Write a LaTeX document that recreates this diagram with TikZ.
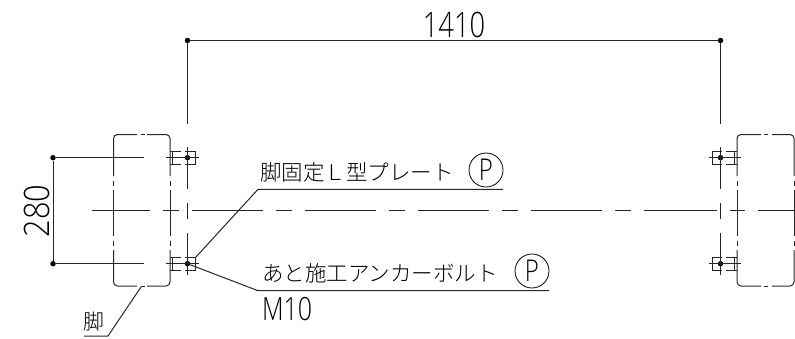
\documentclass[tikz,border=0pt]{standalone}
\usepackage{fontspec}
\setmainfont{Noto Sans CJK JP Light}
\newfontfamily\lat{Open Sans Light}
\newcommand{\cadtxt}[3]{\scalebox{#1}[#2]{\lat #3}}
\tikzset{
  thinl/.style={line width=1pt,black!85},
  leg/.style={line width=1pt,black!85,rounded corners=4pt},
  dot/.style={circle,fill=black,inner sep=0pt,minimum size=5.5pt},
  cjk/.style={inner sep=0pt,anchor=west,font=\fontsize{21.5pt}{22pt}\selectfont},
  pmark/.style={circle,draw,line width=0.8pt,minimum size=34pt,inner sep=0pt,font=\fontsize{30pt}{30pt}\selectfont}
}
\begin{document}
\begin{tikzpicture}[x=1pt,y=-1pt]
\useasboundingbox (0,0) rectangle (795,338);
\node[dot] (d1) at (187.5,40.5) {};
\node[dot] (d2) at (720.5,40.5) {};
\node[dot] (d3) at (53,157.7) {};
\node[dot] (d4) at (53,263.7) {};
\node[dot] (b1) at (187.5,157.7) {};
\node[dot] (b2) at (187.5,263.7) {};
\node[dot] (b3) at (720.5,157.7) {};
\node[dot] (b4) at (720.5,263.7) {};
\draw[thinl] (d1) -- (d2);
\draw[thinl] (d3) -- (d4);
\draw[thinl] (d1) -- (187.5,124);
\draw[thinl] (d2) -- (720.5,124);
\foreach \x in {187.5,720.5}{
  \draw[thinl] (\x,147) -- (\x,189) (\x,203) -- (\x,219) (\x,233) -- (\x,275);
}
\draw[thinl] (d3) -- (144,157.7) (166,157.7) -- (199,157.7);
\draw[thinl] (d4) -- (144,263.7) (166,263.7) -- (199,263.7);
\draw[thinl] (709,157.7) -- (741,157.7) (709,263.7) -- (741,263.7);
\draw[thinl] (92,210.5)--(150,210.5) (163,210.5)--(179,210.5) (192,210.5)--(263,210.5) (276,210.5)--(292,210.5)
 (305,210.5)--(376,210.5) (389,210.5)--(405,210.5) (418,210.5)--(489,210.5) (502,210.5)--(518,210.5)
 (531,210.5)--(602,210.5) (615,210.5)--(631,210.5) (644,210.5)--(717,210.5) (730,210.5)--(745,210.5) (758,210.5)--(795,210.5);
% legs
\foreach \xa/\xb/\xc/\xd/\xe in {113.5/137/141/147/170, 737/761/764/772/794}{
  \draw[leg] (\xb,134.5) -- (\xa,134.5) -- (\xa,176);
  \draw[leg] (\xd,134.5) -- (\xe,134.5) -- (\xe,176);
  \draw[leg] (\xb,286) -- (\xa,286) -- (\xa,250);
  \draw[leg] (\xd,286) -- (\xe,286) -- (\xe,250);
  \draw[thinl] (\xc,134.5) -- (\xc+3.5,134.5) (\xc,286) -- (\xc+3.5,286);
  \foreach \x in {\xa,\xe}{
    \draw[thinl] (\x,181) -- (\x,186) (\x,190) -- (\x,236) (\x,241) -- (\x,246);
  }
}
% plates
\foreach \y in {157.7,263.7}{
  \draw[line width=0.8pt,black!85] (170,\y-6.5) -- (181,\y-6.5) (185,\y-6.5) -- (195.5,\y-6.5) -- (195.5,\y+6.5) -- (185,\y+6.5) (181,\y+6.5) -- (170,\y+6.5)
    (172.7,\y-6.5) -- (172.7,\y+6.5);
  \draw[line width=0.8pt,black!85] (737,\y-6.5) -- (726,\y-6.5) (722,\y-6.5) -- (712.5,\y-6.5) -- (712.5,\y+6.5) -- (722,\y+6.5) (726,\y+6.5) -- (737,\y+6.5)
    (734.3,\y-6.5) -- (734.3,\y+6.5);
}
\coordinate (l1) at (258,189.3);
\coordinate (l1e) at (503,189.3);
\coordinate (l1s) at (195.5,257.5);
\coordinate (l2) at (258,290.7);
\coordinate (l2e) at (549,290.7);
\coordinate (l3) at (141,287);
\coordinate (l3a) at (108,336);
\coordinate (l3b) at (84,336);
\draw[thinl] (l1s) -- (l1) -- (l1e);
\draw[thinl] (b2) -- (l2) -- (l2e);
\draw[thinl] (l3) -- (l3a) -- (l3b);
\node[inner sep=0pt,font=\fontsize{35pt}{35pt}\selectfont] (t1410) at (454,25) {\cadtxt{0.78}{1.0}{1410}};
\node[inner sep=0pt,rotate=90,font=\fontsize{35pt}{35pt}\selectfont] (t280) at (37,211) {\cadtxt{0.88}{1.0}{280}};
\node[cjk] (t1) at (260,172) {脚固定\char"FF2C 型プレート};
\node[pmark] (p1) at (486,170) {\lat\scalebox{0.8}[1]{P}};
\node[cjk] (t2) at (262,273.5) {あと施工アンカーボルト};
\node[pmark] (p2) at (532,271) {\lat\scalebox{0.8}[1]{P}};
\node[inner sep=0pt,anchor=west,font=\fontsize{32pt}{32pt}\selectfont] (t3) at (262,309) {\cadtxt{0.78}{1.0}{M10}};
\node[inner sep=0pt,font=\fontsize{21pt}{21pt}\selectfont] (t4) at (94,322) {脚};
\end{tikzpicture}
\end{document}
